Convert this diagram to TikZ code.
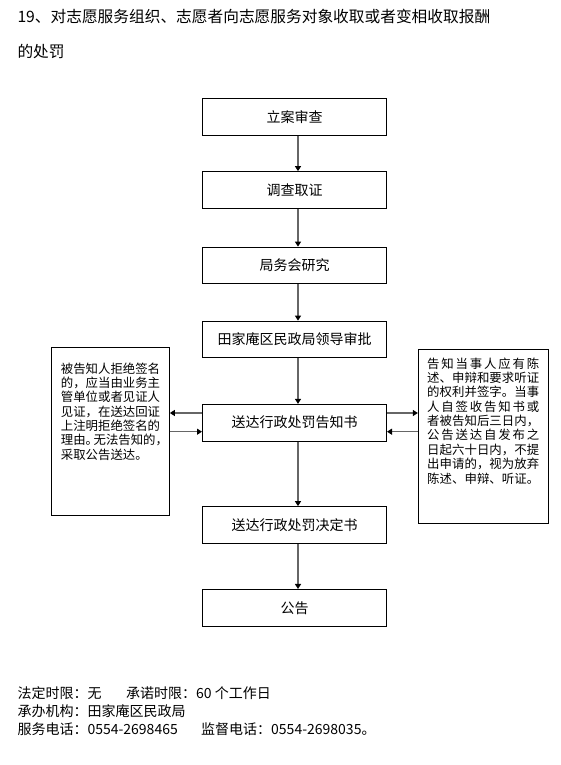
\documentclass[tikz,border=0pt]{standalone}
\usepackage{fontspec}
\setmainfont{Noto Sans CJK SC}
\usetikzlibrary{arrows.meta}
\def\myspa#1{#1\myspb}
\def\myspb#1{\ifx\relax#1\else\hfill#1\expandafter\myspb\fi}
\newcommand\myspread[1]{\makebox[112pt][s]{\expandafter\myspa#1\relax}}
\tikzset{
 mainbox/.style={draw, line width=1pt, minimum width=184pt, minimum height=36.7pt, inner sep=0pt, font=\fontsize{14}{16}\selectfont},
 sidebox/.style={draw, line width=1pt, inner sep=0pt},
 sidetxt/.style={anchor=west, inner sep=0pt, font=\fontsize{12.4}{14}\selectfont},
 conn/.style={draw=black!60, line width=1.3pt, -{Triangle[length=5pt,width=6pt,color=black]}},
 foot/.style={anchor=west, inner sep=0pt, font=\fontsize{14}{16}\selectfont},
 ttl/.style={anchor=west, inner sep=0pt, font=\fontsize{15.7}{18}\selectfont},
}
\begin{document}
\begin{tikzpicture}[x=1pt,y=-1pt]
\fill[white] (0,0) rectangle (560,765);
\useasboundingbox (0,0) rectangle (560,765);
% title
\node[ttl] (t1) at (17.3,17) {19、对志愿服务组织、志愿者向志愿服务对象收取或者变相收取报酬};
\node[ttl] (t2) at (17.3,52) {的处罚};
% main boxes
\node[mainbox] (n1) at (294.5,116.7) {立案审查};
\node[mainbox] (n2) at (294.5,190) {调查取证};
\node[mainbox] (n3) at (294.5,265.5) {局务会研究};
\node[mainbox] (n4) at (294.5,339.5) {田家庵区民政局领导审批};
\node[mainbox] (n5) at (294.5,422.7) {送达行政处罚告知书};
\node[mainbox] (n6) at (294.5,525) {送达行政处罚决定书};
\node[mainbox] (n7) at (294.5,607.8) {公告};
% side boxes
\node[sidebox, minimum width=118.3pt, minimum height=167.5pt] (L) at (110.2,431.25) {};
\node[sidebox, minimum width=129.7pt, minimum height=174pt] (R) at (483.2,436.3) {};
\foreach \t [count=\i] in {被告知人拒绝签名,的，应当由业务主,管单位或者见证人,见证，在送达回证,上注明拒绝签名的,理由。\kern-4.5pt无法告知的，,采取公告送达。}
  \node[sidetxt] (l\i) at (60.7,{368.3+14.4*(\i-1)}) {\t};
\foreach \t [count=\i] in {告知当事人应有陈,述、申辩和要求听证,的权利并签字。当事,人自签收告知书或,者被告知后三日内，,公告送达自发布之,日起六十日内，不提,出申请的，视为放弃,陈述、申辩、听证。}
  \node[sidetxt] (r\i) at (427,{363.3+14.4*(\i-1)}) {\myspread{\t}};
% connectors
\coordinate (ax) at (298,0);
\coordinate (hu) at (0,413);
\coordinate (hd) at (0,431.7);
\draw[conn] (n1.south -| ax) -- (n2.north -| ax);
\draw[conn] (n2.south -| ax) -- (n3.north -| ax);
\draw[conn] (n3.south -| ax) -- (n4.north -| ax);
\draw[conn] (n4.south -| ax) -- (n5.north -| ax);
\draw[conn] (n5.south -| ax) -- (n6.north -| ax);
\draw[conn] (n6.south -| ax) -- (n7.north -| ax);
\draw[conn] (n5.west |- hu) -- (L.east |- hu);
\draw[conn] (L.east |- hd) -- (n5.west |- hd);
\draw[conn] (n5.east |- hu) -- (R.west |- hu);
\draw[conn] (R.west |- hd) -- (n5.east |- hd);
% footer
\node[foot] (f1) at (17.3,692.7) {法定时限：无};
\node[foot] (f2) at (126,692.7) {承诺时限：60 个工作日};
\node[foot] (f3) at (17.3,710.7) {承办机构：田家庵区民政局};
\node[foot] (f4) at (17.3,729.3) {服务电话：0554-2698465};
\node[foot] (f5) at (201,729.3) {监督电话：0554-2698035。};
\end{tikzpicture}
\end{document}
